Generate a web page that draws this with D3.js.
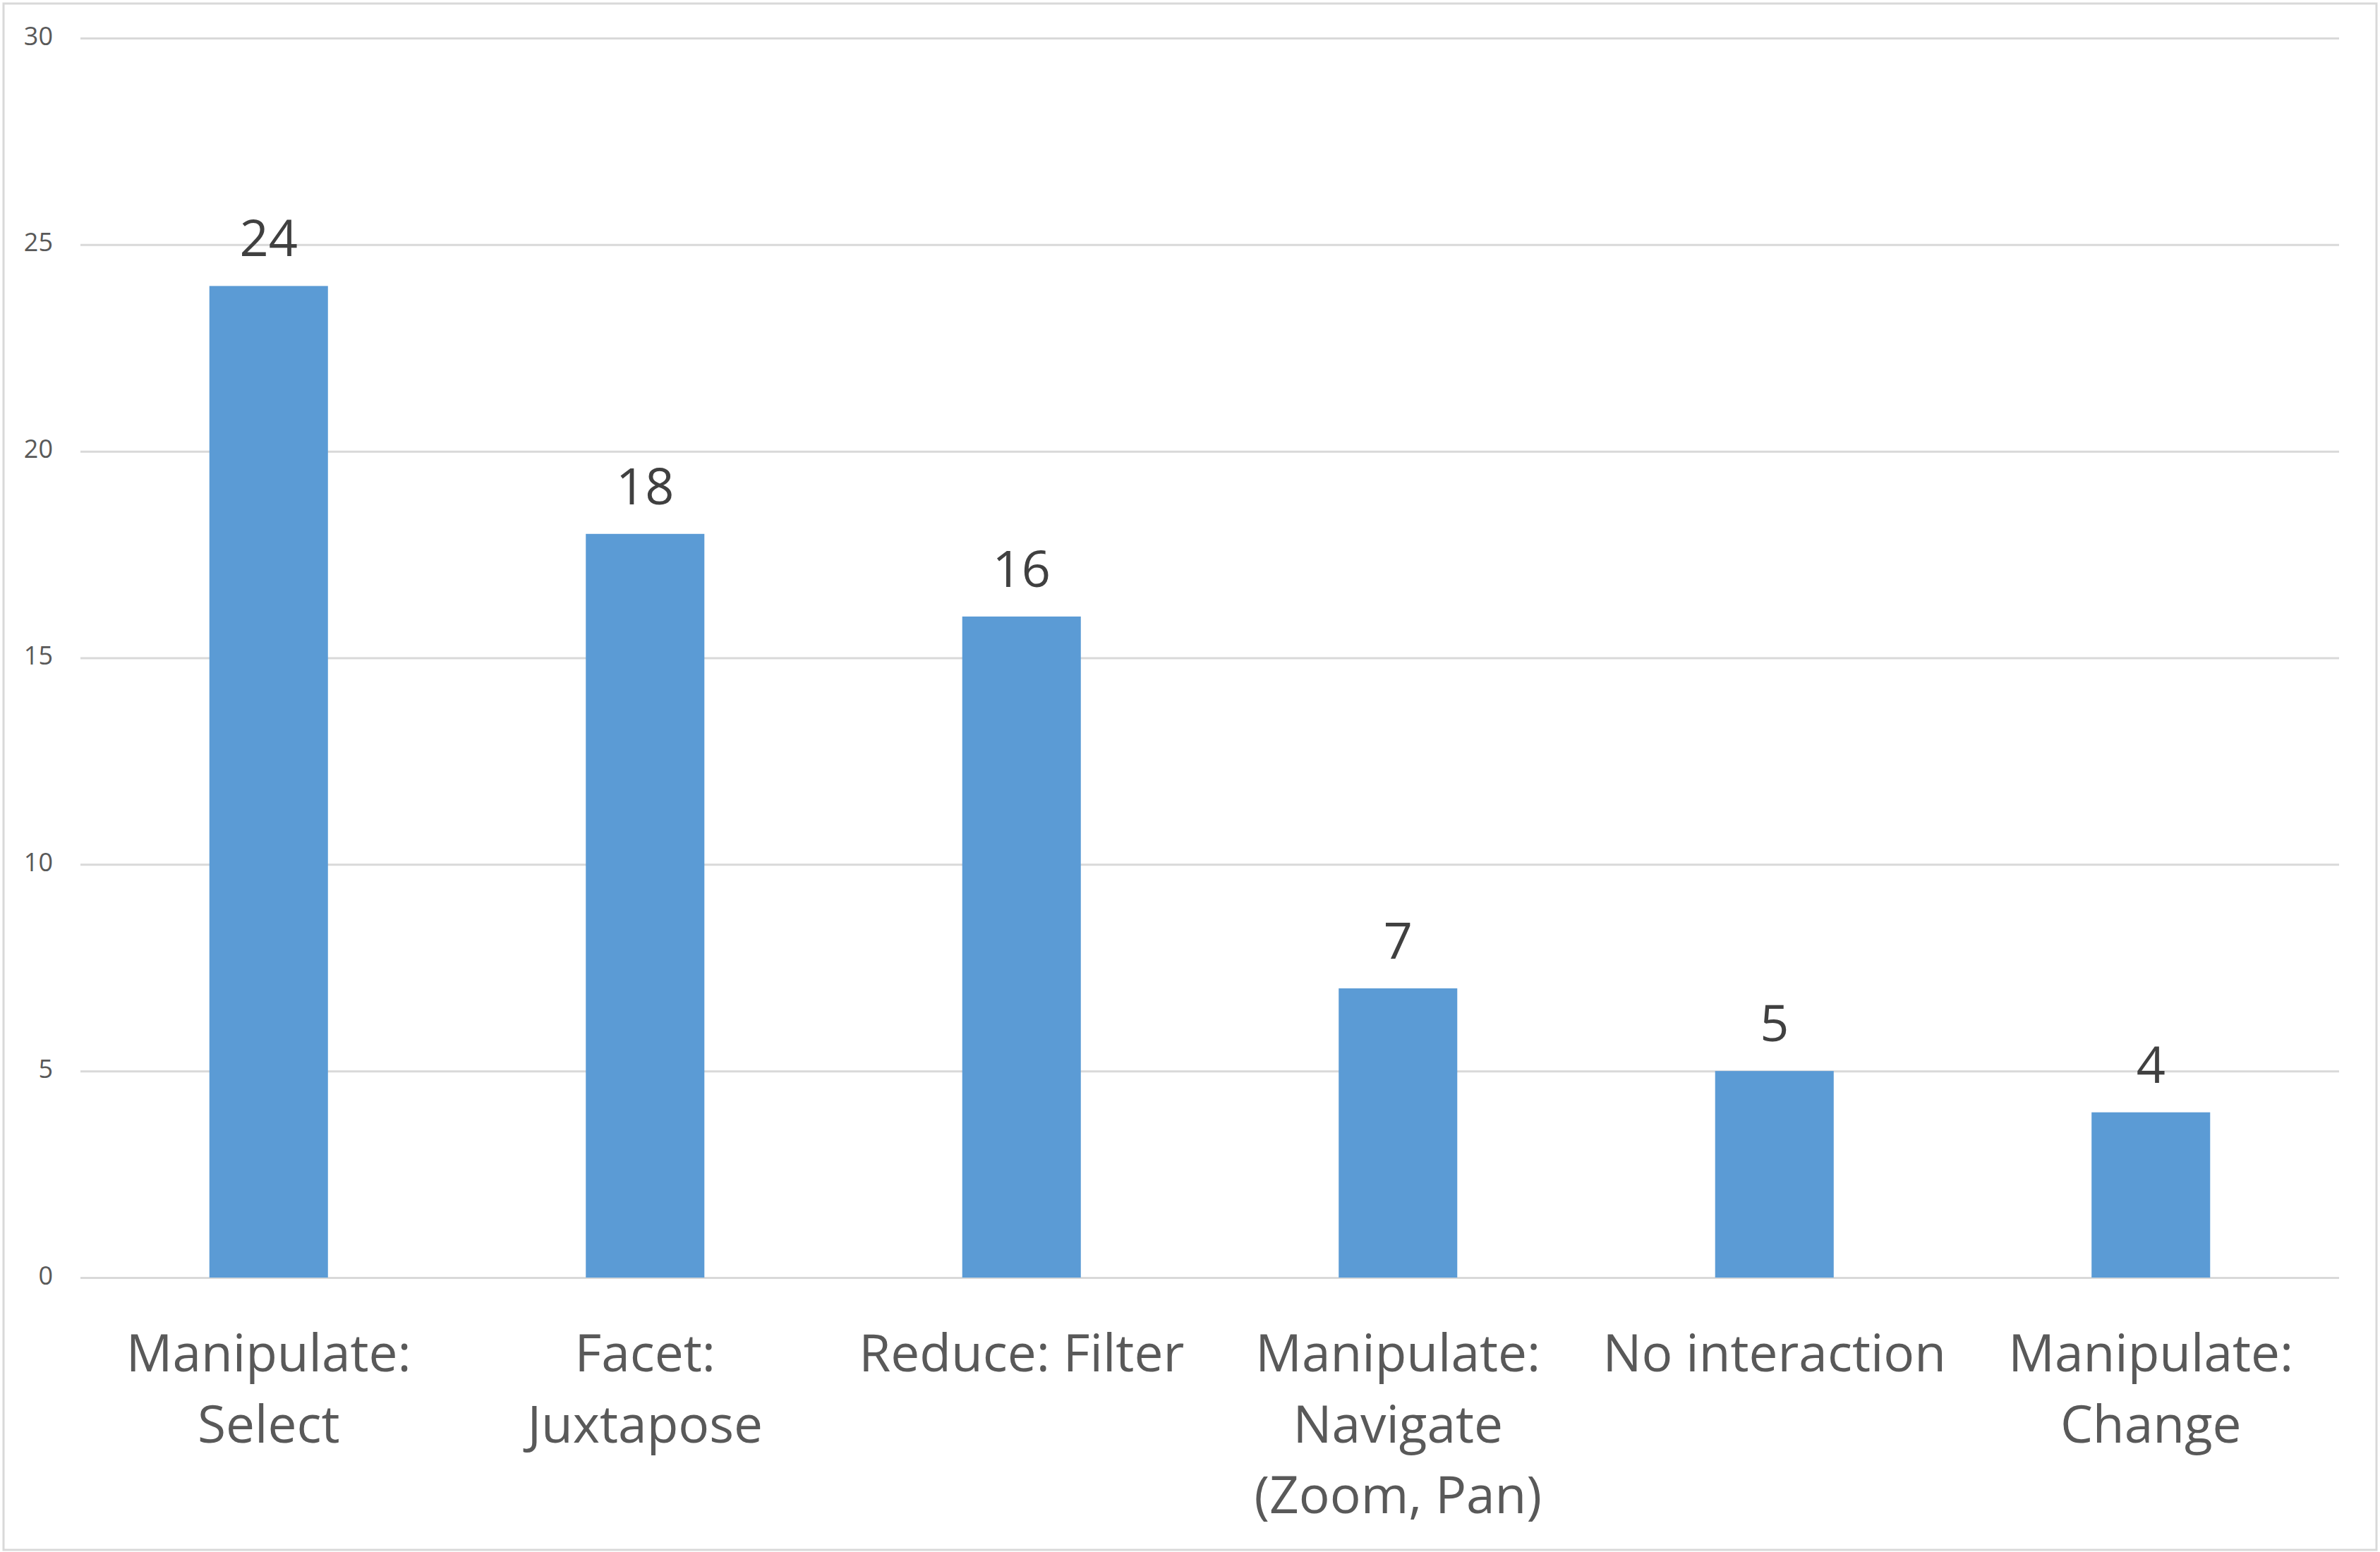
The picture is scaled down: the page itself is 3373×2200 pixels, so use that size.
<!DOCTYPE html>
<html>
<head>
<meta charset="utf-8">
<script src="https://cdn.jsdelivr.net/npm/d3@7"></script>
<style>
  html, body { margin: 0; padding: 0; background: #fff; }
  svg { display: block; }
</style>
</head>
<body>
<div id="chart"></div>
<script>
//
// Chart data
//
const categories = [
  ['Manipulate:', 'Select'],
  ['Facet:', 'Juxtapose'],
  ['Reduce: Filter'],
  ['Manipulate:', 'Navigate', '(Zoom, Pan)'],
  ['No interaction'],
  ['Manipulate:', 'Change']
]
const counts = [24, 18, 16, 7, 5, 4]
const yTicks = [0, 5, 10, 15, 20, 25, 30]

const width = 3373
const height = 2200
const margin = { top: 54, right: 58, bottom: 389, left: 114 }
const font = "'Open Sans', sans-serif"

const svg = d3.select('#chart').append('svg')
  .attr('width', width)
  .attr('height', height)

// outer chart border
svg.append('rect')
  .attr('x', 5).attr('y', 5)
  .attr('width', width - 10).attr('height', height - 8)
  .attr('fill', '#fff')
  .attr('stroke', '#d9d9d9')
  .attr('stroke-width', 3)

const keys = categories.map(c => c.join(' '))
const x = d3.scaleBand()
  .domain(keys)
  .range([margin.left, width - margin.right])
  .paddingInner(0.685)
  .paddingOuter(0.3425)

const y = d3.scaleLinear()
  .domain([0, 30])
  .range([height - margin.bottom, margin.top])

//
// Gridlines + y tick labels
//
const yAxis = svg.append('g')
  .attr('transform', 'translate(' + margin.left + ',0)')
  .call(d3.axisLeft(y)
    .tickValues(yTicks)
    .tickSize(-(width - margin.left - margin.right))
    .tickPadding(39))
yAxis.select('.domain').remove()
yAxis.selectAll('line')
  .attr('stroke', '#d9d9d9')
  .attr('stroke-width', 3)
yAxis.selectAll('text')
  .attr('fill', '#595959')
  .style('font-family', font)
  .style('font-size', '36px')
  .attr('dy', '0.25em')

//
// Bars
//
svg.append('g')
  .selectAll('rect')
  .data(counts)
  .enter()
  .append('rect')
    .attr('x', (d, i) => x(keys[i]))
    .attr('y', d => y(d))
    .attr('width', x.bandwidth())
    .attr('height', d => y(0) - y(d))
    .attr('fill', '#5b9bd5')

// value labels
svg.append('g')
  .selectAll('text')
  .data(counts)
  .enter()
  .append('text')
    .attr('x', (d, i) => x(keys[i]) + x.bandwidth() / 2)
    .attr('y', d => y(d) - 42)
    .attr('text-anchor', 'middle')
    .attr('fill', '#404040')
    .style('font-family', font)
    .style('font-size', '72px')
    .text(d => d)

//
// Category labels (wrapped)
//
const catG = svg.append('g')
categories.forEach((lines, i) => {
  const t = catG.append('text')
    .attr('x', x(keys[i]) + x.bandwidth() / 2)
    .attr('y', y(0) + 133)
    .attr('text-anchor', 'middle')
    .attr('fill', '#595959')
    .style('font-family', font)
    .style('font-size', '73px')
  lines.forEach((line, j) => {
    t.append('tspan')
      .attr('x', x(keys[i]) + x.bandwidth() / 2)
      .attr('dy', j === 0 ? 0 : 100.5)
      .text(line)
  })
})
</script>
</body>
</html>
